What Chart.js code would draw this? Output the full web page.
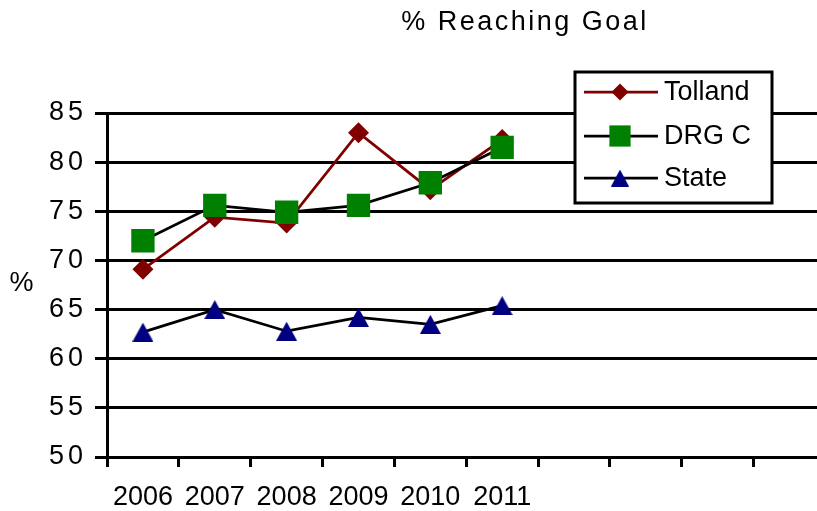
<!DOCTYPE html>
<html>
<head>
<meta charset="utf-8">
<script src="https://cdn.jsdelivr.net/npm/chart.js@4/dist/chart.umd.min.js"></script>
<style>
  html, body { margin: 0; padding: 0; background: #fff; overflow: hidden; }
  #wrap { position: absolute; left: 0; top: 0; width: 842px; height: 511px; }
  canvas { display: block; }
</style>
</head>
<body>
<div id="wrap"><canvas id="c" width="842" height="511" style="width:842px;height:511px"></canvas></div>
<script>
// Category axis: ten yearly slots, only the first six are labelled
const years = ['2006', '2007', '2008', '2009', '2010', '2011', '', '', '', ''];

// Percent of students reaching goal
const tolland = [69.1, 74.4, 73.8, 83.0, 77.2, 82.3];
const drgC    = [72.0, 75.6, 74.9, 75.6, 77.9, 81.5];
const state   = [62.7, 65.0, 62.8, 64.2, 63.5, 65.4];

const seriesNames = ['Tolland', 'DRG C', 'State'];

const yTicks = { min: 50, max: 85, step: 5 };

const FONT = "'Liberation Sans', Arial, sans-serif";
const DARKRED = '#800000';
const GREEN = '#008000';
const NAVY = '#000080';

// Upright triangle marker centred in its own bounding box
function triangleMarker(w, h, color) {
  const cv = document.createElement('canvas');
  cv.width = w; cv.height = h;
  const g = cv.getContext('2d');
  g.fillStyle = color;
  g.beginPath();
  g.moveTo(w / 2, 0);
  g.lineTo(w, h);
  g.lineTo(0, h);
  g.closePath();
  g.fill();
  return cv;
}
const triBig = triangleMarker(21, 19, NAVY);
const triSmall = triangleMarker(18, 17, NAVY);

// Wider character spacing for the value-axis labels
const spacedYLabels = {
  id: 'spacedYLabels',
  beforeDraw(chart) {
    const y = chart.scales.y;
    if (y && !y._spaced) {
      const orig = y.drawLabels;
      y.drawLabels = function (area) {
        const ctx = this.ctx;
        ctx.save();
        ctx.letterSpacing = '4px';
        orig.call(this, area);
        ctx.restore();
      };
      y._spaced = true;
    }
  }
};

// Title, axis caption and the boxed legend
const decorations = {
  id: 'decorations',
  afterDraw(chart) {
    const ctx = chart.ctx;
    ctx.save();
    ctx.fillStyle = '#000';
    ctx.font = '27px ' + FONT;
    ctx.textBaseline = 'middle';

    // chart title
    ctx.textAlign = 'center';
    ctx.letterSpacing = '2.5px';
    ctx.fillText('% Reaching Goal', 525, 23);
    ctx.letterSpacing = '0px';

    // y-axis caption
    ctx.fillText('%', 21.5, 284);

    // legend box
    const bx = 575, by = 72, bw = 197, bh = 131;
    ctx.fillStyle = '#fff';
    ctx.fillRect(bx, by, bw, bh);
    ctx.strokeStyle = '#000';
    ctx.lineWidth = 3;
    ctx.strokeRect(bx, by, bw, bh);

    const rows = [92, 136, 178];
    const legendStyles = [
      { pointStyle: 'rectRot', radius: 8.5, borderWidth: 0 },
      { pointStyle: 'rect', radius: 15, borderWidth: 0 },
      { pointStyle: triSmall, radius: 9, borderWidth: 0 }
    ];
    chart.data.datasets.forEach((ds, i) => {
      const y = rows[i];
      ctx.strokeStyle = ds.borderColor;
      ctx.lineWidth = 2.75;
      ctx.beginPath();
      ctx.moveTo(584, y);
      ctx.lineTo(658, y);
      ctx.stroke();
      ctx.fillStyle = ds.pointBackgroundColor;
      ctx.strokeStyle = ds.pointBackgroundColor;
      Chart.helpers.drawPoint(ctx, legendStyles[i], 620, y);
      ctx.fillStyle = '#000';
      ctx.textAlign = 'left';
      ctx.font = '27px ' + FONT;
      ctx.fillText(ds.label, 664, y + 1);
    });
    ctx.restore();
  }
};

new Chart(document.getElementById('c'), {
  type: 'line',
  data: {
    labels: years,
    datasets: [
      {
        label: seriesNames[0],
        data: tolland,
        order: 1,
        borderColor: DARKRED,
        borderWidth: 2.75,
        pointStyle: 'rectRot',
        pointRadius: 10.5,
        pointBorderWidth: 0,
        pointBackgroundColor: DARKRED,
        pointBorderColor: DARKRED,
        tension: 0
      },
      {
        label: seriesNames[1],
        data: drgC,
        order: 0,
        borderColor: '#000',
        borderWidth: 2.75,
        pointStyle: 'rect',
        pointRadius: 16.5,
        pointBorderWidth: 0,
        pointBackgroundColor: GREEN,
        pointBorderColor: GREEN,
        tension: 0
      },
      {
        label: seriesNames[2],
        data: state,
        order: 2,
        borderColor: '#000',
        borderWidth: 2.75,
        pointStyle: triBig,
        pointRadius: 10,
        pointBorderWidth: 0,
        pointBackgroundColor: NAVY,
        pointBorderColor: NAVY,
        tension: 0
      }
    ]
  },
  options: {
    responsive: false,
    animation: false,
    events: [],
    layout: { padding: { top: 113, right: 6, bottom: 0, left: 0 } },
    plugins: {
      legend: { display: false },
      title: { display: false },
      tooltip: { enabled: false }
    },
    scales: {
      x: {
        type: 'category',
        offset: true,
        afterFit(scale) {
          scale.height = 54;
          scale.paddingLeft = 0;
          scale.paddingRight = 0;
        },
        grid: {
          display: true,
          drawOnChartArea: false,
          drawTicks: true,
          tickLength: 10,
          offset: true,
          color: '#000',
          lineWidth: 3
        },
        border: { display: true, color: '#000', width: 3 },
        ticks: {
          color: '#000',
          font: { family: FONT, size: 27 },
          padding: 14,
          maxRotation: 0,
          autoSkip: false
        }
      },
      y: {
        min: yTicks.min,
        max: yTicks.max,
        afterFit(scale) { scale.width = 107; },
        grid: {
          color: '#000',
          lineWidth: 3,
          drawTicks: true,
          tickLength: 12
        },
        border: { display: true, color: '#000', width: 3 },
        ticks: {
          stepSize: yTicks.step,
          color: '#000',
          font: { family: FONT, size: 27 },
          padding: 8
        }
      }
    }
  },
  plugins: [spacedYLabels, decorations]
});
</script>
</body>
</html>
